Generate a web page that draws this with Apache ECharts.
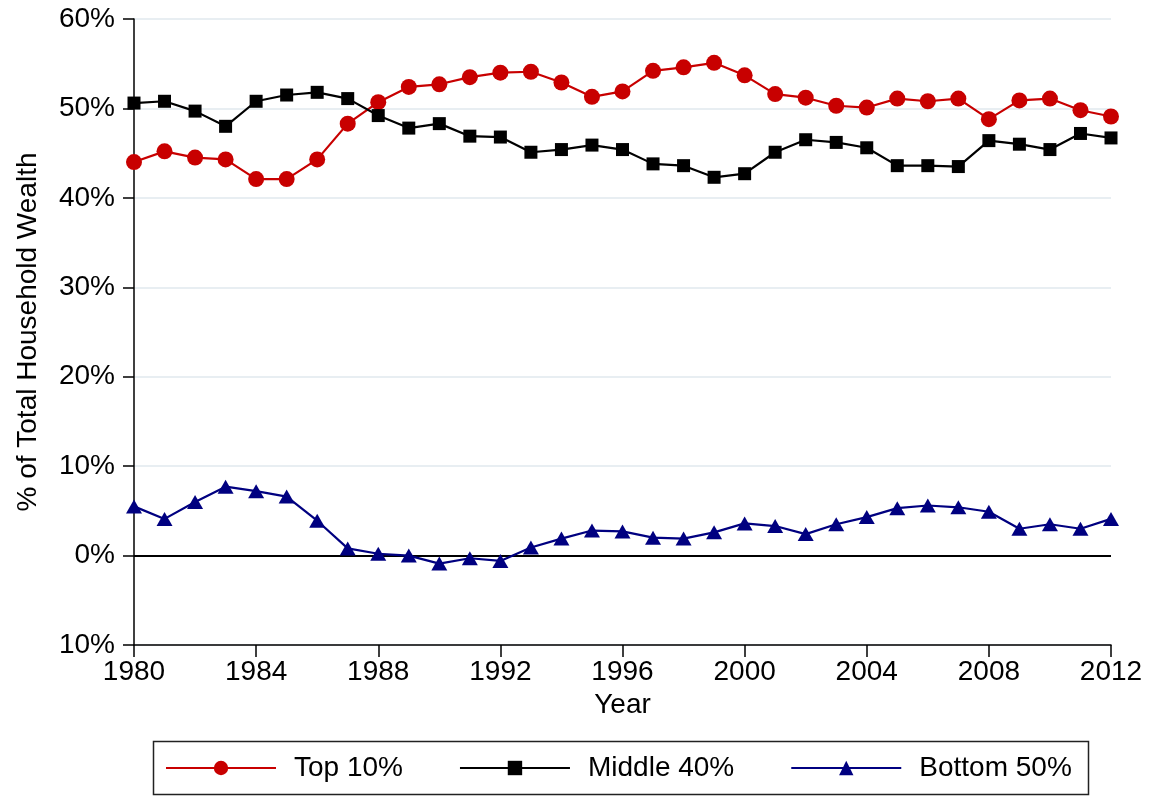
<!DOCTYPE html>
<html>
<head>
<meta charset="utf-8">
<script src="https://cdn.jsdelivr.net/npm/echarts@6/dist/echarts.min.js"></script>
<style>
  html, body { margin: 0; padding: 0; background: #ffffff; }
  #chart { width: 1151px; height: 796px; }
</style>
</head>
<body>
<div id="chart"></div>
<script>
const years = [1980,1981,1982,1983,1984,1985,1986,1987,1988,1989,1990,1991,1992,1993,1994,1995,1996,1997,1998,1999,2000,2001,2002,2003,2004,2005,2006,2007,2008,2009,2010,2011,2012];
const top10 = [44.0,45.2,44.5,44.3,42.1,42.1,44.3,48.3,50.7,52.4,52.7,53.5,54.0,54.1,52.9,51.3,51.9,54.2,54.6,55.1,53.7,51.6,51.2,50.3,50.1,51.1,50.8,51.1,48.8,50.9,51.1,49.8,49.1];
const middle40 = [50.6,50.8,49.7,48.0,50.8,51.5,51.8,51.1,49.2,47.8,48.3,46.9,46.8,45.1,45.4,45.9,45.4,43.8,43.6,42.3,42.7,45.1,46.5,46.2,45.6,43.6,43.6,43.5,46.4,46.0,45.4,47.2,46.7];
const bottom50 = [5.5,4.1,6.0,7.7,7.2,6.6,3.9,0.8,0.2,0.0,-0.9,-0.3,-0.6,0.9,1.9,2.8,2.7,2.0,1.9,2.6,3.6,3.3,2.4,3.5,4.3,5.3,5.6,5.4,4.9,3.0,3.5,3.0,4.1];
const seriesNames = ['Top 10%', 'Middle 40%', 'Bottom 50%'];
const yTicks = [-10, 0, 10, 20, 30, 40, 50, 60];
const yTickLabels = ['10%', '0%', '10%', '20%', '30%', '40%', '50%', '60%'];
const xTicks = [1980, 1984, 1988, 1992, 1996, 2000, 2004, 2008, 2012];

const FONT = '"Liberation Sans", Arial, sans-serif';
const pair = arr => years.map((y, i) => [y, arr[i]]);

const chart = echarts.init(document.getElementById('chart'), null, { renderer: 'canvas' });
const gridColor = '#e8eef2';
chart.setOption({
  animation: false,
  backgroundColor: '#ffffff',
  textStyle: { fontFamily: FONT, color: '#000' },
  grid: { left: 134, right: 40, top: 19, bottom: 151, containLabel: false },
  xAxis: {
    type: 'value',
    min: xTicks[0], max: xTicks[xTicks.length - 1], interval: 4,
    name: 'Year', nameLocation: 'middle', nameGap: 45,
    nameTextStyle: { fontSize: 28, color: '#000', fontFamily: FONT },
    axisLine: { show: true, onZero: false, lineStyle: { color: '#000', width: 1.5 } },
    axisTick: { show: true, length: 12, lineStyle: { color: '#000', width: 1.5 } },
    axisLabel: { fontSize: 28, color: '#000', margin: 13, fontFamily: FONT,
      formatter: v => String(v) },
    splitLine: { show: false }
  },
  yAxis: {
    type: 'value',
    min: yTicks[0], max: yTicks[yTicks.length - 1], interval: 10,
    name: '% of Total Household Wealth', nameLocation: 'middle', nameGap: 92, nameRotate: 90,
    nameTextStyle: { fontSize: 28, color: '#000', fontFamily: FONT },
    axisLine: { show: true, lineStyle: { color: '#000', width: 1.5 } },
    axisTick: { show: true, length: 11, lineStyle: { color: '#000', width: 1.5 } },
    axisLabel: { fontSize: 28, color: '#000', margin: 19, fontFamily: FONT,
      formatter: v => { const i = yTicks.indexOf(v); return i >= 0 ? yTickLabels[i] : ''; } },
    splitLine: { show: true, lineStyle: { color: [gridColor, '#000000', gridColor, gridColor, gridColor, gridColor, gridColor, gridColor], width: 2 } }
  },
  legend: {
    data: seriesNames,
    left: 165, top: 754,
    padding: 0,
    itemWidth: 110, itemHeight: 18, itemGap: 56,
    textStyle: { fontSize: 28, color: '#000', fontFamily: FONT, padding: [0, 0, 0, 13] }
  },
  graphic: [{
    type: 'rect', silent: true, z: -1,
    shape: { x: 153.5, y: 741.5, width: 935, height: 53 },
    style: { fill: 'none', stroke: '#222', lineWidth: 1.5 }
  }],
  series: [
    { name: seriesNames[0], type: 'line', data: pair(top10), symbol: 'circle', symbolSize: 16,
      itemStyle: { color: '#c80000' }, lineStyle: { color: '#c80000', width: 2.2 } },
    { name: seriesNames[1], type: 'line', data: pair(middle40), symbol: 'rect', symbolSize: 13,
      itemStyle: { color: '#000000' }, lineStyle: { color: '#000000', width: 2.2 } },
    { name: seriesNames[2], type: 'line', data: pair(bottom50), symbol: 'triangle', symbolSize: [16, 14],
      itemStyle: { color: '#000080' }, lineStyle: { color: '#000080', width: 2.2 } }
  ]
});
</script>
</body>
</html>
